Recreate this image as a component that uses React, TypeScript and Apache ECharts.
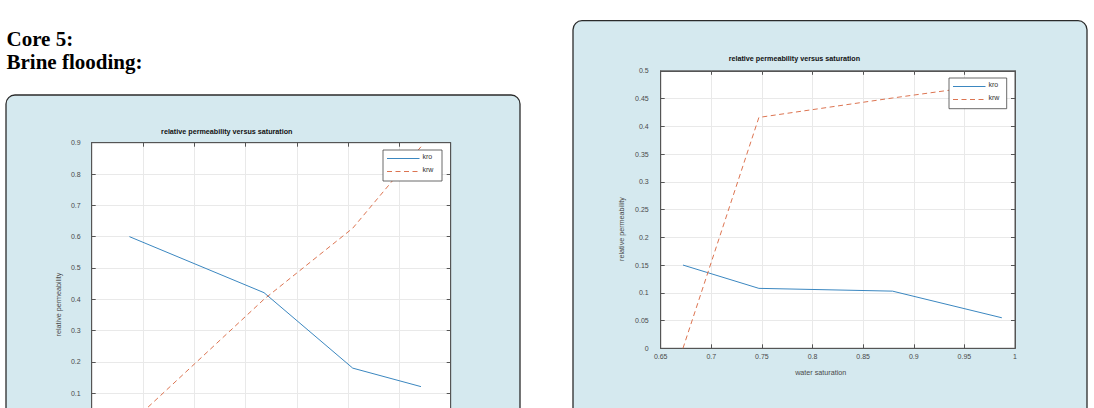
import { useEffect, useRef } from "react";
import * as echarts from "echarts";

// core 5, brine flooding (left panel)
const leftSw = [0.3735, 0.636, 0.809, 0.942];
const leftKro = [0.6, 0.421, 0.18, 0.121];
const leftKrw = [0, 0.4, 0.627, 0.887];

// second flood (right panel)
const rightSw = [0.672, 0.747, 0.879, 0.987];
const rightKro = [0.15, 0.108, 0.103, 0.055];
const rightKrw = [0, 0.416, 0.451, 0.478];

const seriesNames = ["kro", "krw"];
const leftXTicks = [0.3, 1.0, 0.1];
const leftYTicks = [0, 0.9, 0.1];
const rightXTicks = [0.65, 1.0, 0.05];
const rightYTicks = [0, 0.5, 0.05];

const chartTitle = "relative permeability versus saturation";
const xName = "water saturation";
const yName = "relative permeability";

const BLUE = "#3b87c0";
const ORANGE = "#dc7451";
const AXIS = "#555";
const GRID_LINE = "#e9e9e9";
const LABEL = "#4a4a4a";
const SANS = '"Liberation Sans", Arial, sans-serif';
const DASH = [5, 3.5];

const pair = (xs: number[], ys: number[]) => xs.map((x, i) => [x, ys[i]]);

function xAxes(gridIndex: number, ticks: number[], showLabels: boolean) {
  const [min, max, interval] = ticks;
  const common = {
    type: "value",
    gridIndex,
    min,
    max,
    interval,
    axisLine: { show: true, onZero: false, lineStyle: { color: AXIS, width: 1 } },
    axisTick: { inside: true, length: 4, lineStyle: { color: AXIS } },
  };
  return [
    {
      ...common,
      position: "bottom",
      axisLabel: { show: showLabels, fontSize: 7, color: LABEL, fontFamily: SANS, margin: 5 },
      splitLine: { show: true, lineStyle: { color: GRID_LINE } },
    },
    { ...common, position: "top", axisLabel: { show: false }, splitLine: { show: false } },
  ];
}

function yAxes(gridIndex: number, ticks: number[], margin: number, showMin: boolean) {
  const [min, max, interval] = ticks;
  const common = {
    type: "value",
    gridIndex,
    min,
    max,
    interval,
    axisLine: { show: true, onZero: false, lineStyle: { color: AXIS, width: 1 } },
    axisTick: { inside: true, length: 4, lineStyle: { color: AXIS } },
  };
  return [
    {
      ...common,
      position: "left",
      axisLabel: { fontSize: 7, color: LABEL, fontFamily: SANS, margin, showMinLabel: showMin },
      splitLine: { show: true, lineStyle: { color: GRID_LINE } },
    },
    { ...common, position: "right", axisLabel: { show: false }, splitLine: { show: false } },
  ];
}

function line(name: string, data: number[][], axisIndex: number, color: string, dashed: boolean) {
  return {
    name,
    type: "line",
    xAxisIndex: axisIndex,
    yAxisIndex: axisIndex,
    data,
    symbol: "none",
    lineStyle: { color, width: 1, type: dashed ? DASH : "solid" },
    itemStyle: { color },
  };
}

// MATLAB-style boxed legend: sample line, then name; sits on top of the plot lines
function legendBox(x: number, y: number, w: number, h: number) {
  const rowY = [y + 8.5, y + 21.5];
  const colors = [BLUE, ORANGE];
  const items: any[] = [
    { type: "rect", z: 50, shape: { x, y, width: w, height: h }, style: { fill: "#fff", stroke: "#444", lineWidth: 0.8 } },
  ];
  seriesNames.forEach((name, i) => {
    items.push({
      type: "line",
      z: 51,
      shape: { x1: x + 4, y1: rowY[i], x2: x + 36.5, y2: rowY[i] },
      style: { stroke: colors[i], lineWidth: 1, lineDash: i === 1 ? DASH : null },
    });
    items.push({
      type: "text",
      z: 51,
      x: x + 39.5,
      y: rowY[i] - 2,
      style: { text: name, font: `7px ${SANS}`, fill: "#333", verticalAlign: "middle" },
    });
  });
  return items;
}

function label(text: string, x: number, y: number, opts: any = {}) {
  return {
    type: "text",
    x,
    y,
    rotation: opts.rotation ?? 0,
    style: {
      text,
      fill: opts.fill ?? LABEL,
      font: opts.font ?? `7.2px ${SANS}`,
      align: "center",
      verticalAlign: "middle",
    },
  };
}

export default function App() {
  const ref = useRef<HTMLDivElement | null>(null);

  useEffect(() => {
    if (!ref.current) return;
    const chart = echarts.init(ref.current, undefined, { renderer: "svg" });

    const boxStyle = { fill: "#d5e9ef", stroke: "#2b2b2b", lineWidth: 1.3 };
    const titleFont = `bold 7.2px ${SANS}`;
    const headFont = 'bold 21px "Liberation Serif", "Times New Roman", serif';

    chart.setOption({
      animation: false,
      grid: [
        { left: 91.7, top: 142.7, width: 359, height: 281.8, show: true, backgroundColor: "#fff", borderColor: AXIS, borderWidth: 1 },
        { left: 660.7, top: 70.8, width: 354.3, height: 277.5, show: true, backgroundColor: "#fff", borderColor: AXIS, borderWidth: 1 },
      ],
      xAxis: [...xAxes(0, leftXTicks, false), ...xAxes(1, rightXTicks, true)],
      yAxis: [...yAxes(0, leftYTicks, 11, false), ...yAxes(1, rightYTicks, 12, true)],
      series: [
        line(seriesNames[0], pair(leftSw, leftKro), 0, BLUE, false),
        line(seriesNames[1], pair(leftSw, leftKrw), 0, ORANGE, true),
        line(seriesNames[0], pair(rightSw, rightKro), 2, BLUE, false),
        line(seriesNames[1], pair(rightSw, rightKrw), 2, ORANGE, true),
      ],
      graphic: [
        { type: "rect", z: -10, shape: { x: 6, y: 95, width: 514, height: 400, r: 9 }, style: boxStyle },
        { type: "rect", z: -10, shape: { x: 573, y: 20.7, width: 514, height: 440, r: 9 }, style: boxStyle },
        {
          type: "text",
          x: 6.5,
          y: 39,
          style: { text: "Core 5:", font: headFont, fill: "#000", verticalAlign: "middle" },
        },
        {
          type: "text",
          x: 6.5,
          y: 61.5,
          style: { text: "Brine flooding:", font: headFont, fill: "#000", verticalAlign: "middle" },
        },
        label(chartTitle, 226.8, 131, { font: titleFont, fill: "#111" }),
        label(chartTitle, 794.4, 58.3, { font: titleFont, fill: "#111" }),
        label(yName, 58.3, 304.5, { rotation: Math.PI / 2 }),
        label(yName, 621.7, 229, { rotation: Math.PI / 2 }),
        label(xName, 820.7, 372.3),
        ...legendBox(383, 150, 59, 31),
        ...legendBox(949, 78, 57.7, 30.7),
      ],
    });

    return () => chart.dispose();
  }, []);

  return (
    <div style={{ position: "fixed", left: 0, top: 0, width: 1094, height: 408, overflow: "hidden", background: "#fff" }}>
      <div ref={ref} style={{ width: 1094, height: 470 }} />
    </div>
  );
}
